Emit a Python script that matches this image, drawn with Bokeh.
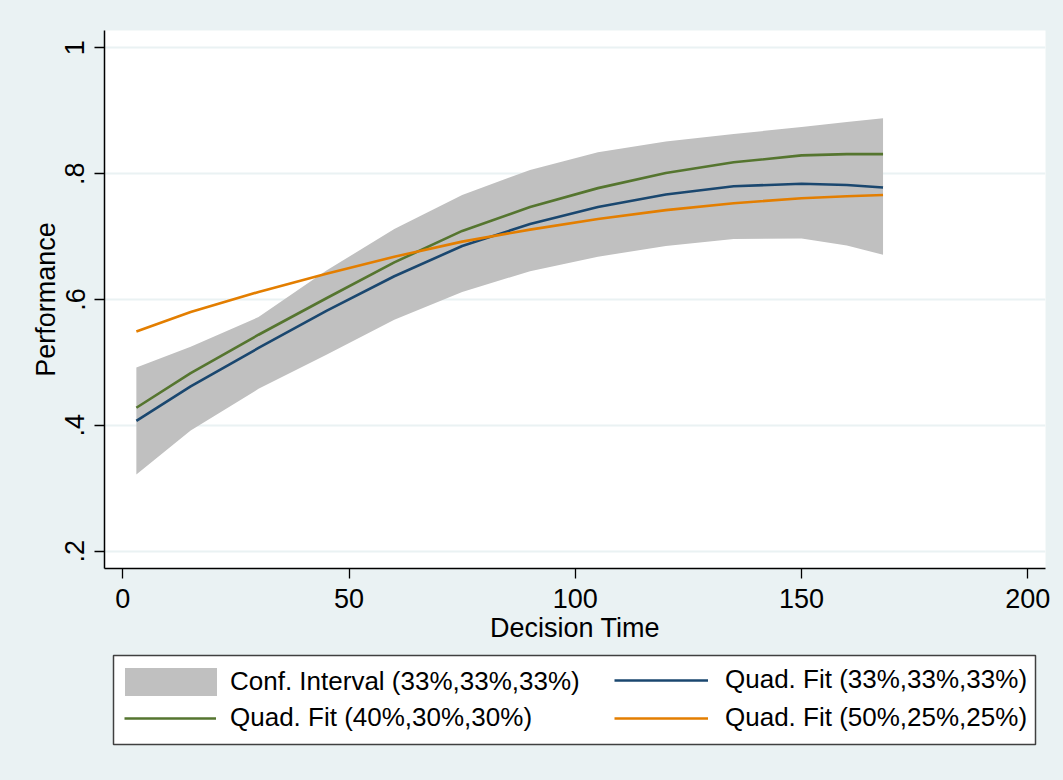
from bokeh.plotting import figure
from bokeh.models import Range1d, Legend, LegendItem, FixedTicker, BoxAnnotation
from bokeh.layouts import column
from bokeh.embed import file_html
from bokeh.resources import INLINE

# ---- data ----
decision_time = [3, 15, 30, 45, 60, 75, 90, 105, 120, 135, 150, 160, 168]
ci_upper = [0.492, 0.525, 0.572, 0.646, 0.712, 0.766, 0.806, 0.834, 0.851, 0.863, 0.874, 0.882, 0.888]
ci_lower = [0.322, 0.392, 0.458, 0.512, 0.568, 0.612, 0.645, 0.668, 0.685, 0.696, 0.697, 0.686, 0.671]
fit_33 = [0.407, 0.462, 0.523, 0.582, 0.637, 0.685, 0.720, 0.747, 0.767, 0.780, 0.784, 0.782, 0.778]
fit_40 = [0.428, 0.483, 0.544, 0.602, 0.659, 0.709, 0.747, 0.777, 0.801, 0.818, 0.829, 0.831, 0.831]
fit_50 = [0.549, 0.580, 0.612, 0.641, 0.668, 0.692, 0.711, 0.728, 0.742, 0.753, 0.761, 0.764, 0.766]

x_ticks = [0, 50, 100, 150, 200]
y_ticks = [0.2, 0.4, 0.6, 0.8, 1.0]
y_tick_labels = [".2", ".4", ".6", ".8", "1"]

labels = ["Conf. Interval (33%,33%,33%)", "Quad. Fit (33%,33%,33%)",
          "Quad. Fit (40%,30%,30%)", "Quad. Fit (50%,25%,25%)"]

BG = "#EAF2F3"
FONT = "Liberation Sans"
FS = "27px"
C_CI, C33, C40, C50 = "#C0C0C0", "#1A476F", "#55752F", "#E37E00"
LEFT, RIGHT = 104, 18

# ---------------- main plot ----------------
p = figure(width=1063, height=652, output_backend="svg", toolbar_location=None,
           x_range=Range1d(-4.04, 203.9), y_range=Range1d(0.1725, 1.0275))
p.min_border_left = LEFT
p.min_border_right = RIGHT
p.min_border_top = 30
p.min_border_bottom = 84
p.background_fill_color = "white"
p.border_fill_color = BG
p.outline_line_color = None

p.varea(x=decision_time, y1=ci_lower, y2=ci_upper, fill_color=C_CI, fill_alpha=1.0)
p.line(decision_time, fit_33, line_color=C33, line_width=2.6)
p.line(decision_time, fit_40, line_color=C40, line_width=2.6)
p.line(decision_time, fit_50, line_color=C50, line_width=2.6)

p.xaxis.ticker = FixedTicker(ticks=x_ticks)
p.yaxis.ticker = FixedTicker(ticks=y_ticks)
p.yaxis.major_label_overrides = {t: s for t, s in zip(y_ticks, y_tick_labels)}
p.yaxis.major_label_orientation = "vertical"
for ax in (p.xaxis[0], p.yaxis[0]):
    ax.axis_line_color = "black"
    ax.axis_line_width = 1.5
    ax.major_tick_line_color = "black"
    ax.major_tick_line_width = 1.3
    ax.major_tick_out = 10
    ax.major_tick_in = 0
    ax.minor_tick_line_color = None
    ax.major_label_text_font = FONT
    ax.major_label_text_font_size = FS
    ax.major_label_text_color = "black"
    ax.axis_label_text_font = FONT
    ax.axis_label_text_font_size = FS
    ax.axis_label_text_font_style = "normal"
    ax.axis_label_text_color = "black"
    ax.major_label_standoff = 10
    ax.axis_label_standoff = 2
p.xaxis.axis_label = "Decision Time"
p.yaxis.axis_label = "Performance"

p.xgrid.grid_line_color = None
p.ygrid.grid_line_color = BG
p.ygrid.grid_line_width = 2

# ---------------- legend strip ----------------
q = figure(width=1063, height=128, output_backend="svg", toolbar_location=None,
           x_axis_type=None, y_axis_type=None,
           x_range=Range1d(0, 1), y_range=Range1d(0, 1))
q.min_border_left = LEFT
q.min_border_right = RIGHT
q.min_border_top = 0
q.min_border_bottom = 0
q.background_fill_color = None
q.border_fill_color = BG
q.outline_line_color = None

q.add_layout(BoxAnnotation(left=113, right=1035, top=3, bottom=92,
                           left_units="canvas", right_units="canvas",
                           top_units="canvas", bottom_units="canvas",
                           fill_color="white", fill_alpha=1.0,
                           line_color="#404040", line_width=1.5, line_alpha=1.0))

# legend proxies (their data lie outside this strip's ranges)
k_ci = q.varea(x=decision_time, y1=ci_lower, y2=ci_upper, fill_color=C_CI, fill_alpha=1.0)
k33 = q.line(decision_time, fit_33, line_color=C33, line_width=2.6)
k40 = q.line(decision_time, fit_40, line_color=C40, line_width=2.6)
k50 = q.line(decision_time, fit_50, line_color=C50, line_width=2.6)


def make_legend(items, loc, gw, gh, standoff):
    lg = Legend(items=items, location=loc)
    lg.label_text_font = FONT
    lg.label_text_font_size = "26px"
    lg.label_text_color = "black"
    lg.glyph_width = gw
    lg.glyph_height = gh
    lg.label_height = 30
    lg.label_standoff = standoff
    lg.spacing = 7
    lg.padding = 0
    lg.margin = 0
    lg.border_line_color = None
    lg.background_fill_alpha = 0
    return lg


q.add_layout(make_legend([LegendItem(label=labels[0], renderers=[k_ci])], (9, 81), 115, 35, 2), "center")
q.add_layout(make_legend([LegendItem(label=labels[2], renderers=[k40])], (20, 47), 92, 28, 14), "center")
q.add_layout(make_legend([LegendItem(label=labels[1], renderers=[k33]),
                          LegendItem(label=labels[3], renderers=[k50])], (510, 47), 94, 28, 17), "center")

layout = column(p, q, spacing=0, styles={"background-color": BG})
open("out.html", "w").write(file_html(layout, INLINE))
